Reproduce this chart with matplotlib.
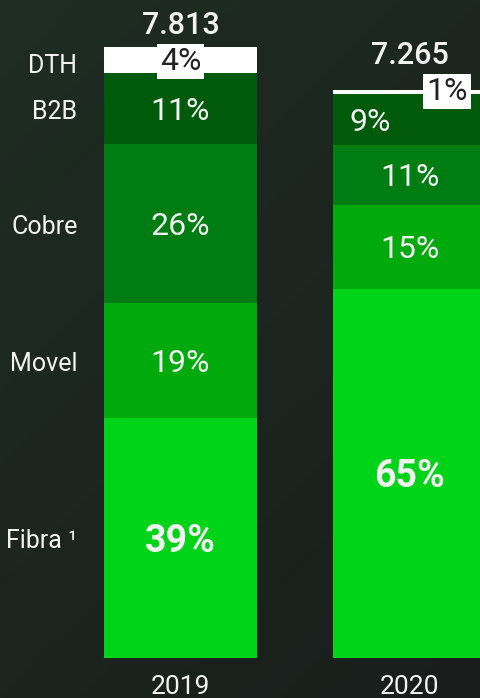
import matplotlib
matplotlib.use("Agg")
import matplotlib.pyplot as plt
import numpy as np

# data (thousands)
years = ["2019", "2020"]
totals = ["7.813", "7.265"]
categories = ["Fibra \u00b9", "Movel", "Cobre", "B2B", "DTH"]
fibra = [3.069, 4.725]
movel = [1.471, 1.070]
cobre = [2.033, 0.770]
b2b = [0.908, 0.650]
dth = [0.332, 0.050]
pct_fibra = ["39%", "65%"]
pct_movel = ["19%", "15%"]
pct_cobre = ["26%", "11%"]
pct_b2b = ["11%", "9%"]
pct_dth = ["4%", "1%"]

colors = ["#00d418", "#00a90c", "#007d12", "#005a0b", "#ffffff"]
txt = "#f2f2f2"


def Setup_plt():
    plt.rcParams.update({
        "font.family": ["Roboto", "DejaVu Sans"],
        "font.size": 18,
    })
    return


def draw_background(fig):
    bg = fig.add_axes([0, 0, 1, 1], zorder=-1)
    yy, xx = np.mgrid[0:1:200j, 0:1:200j]
    t = np.clip(0.6 * yy + 0.4 * xx, 0, 1)
    c0 = np.array([31, 45, 34]) / 255.0
    c1 = np.array([25, 30, 28]) / 255.0
    img = c0[None, None, :] * (1 - t[..., None]) + c1[None, None, :] * t[..., None]
    bg.imshow(img, aspect="auto", extent=[0, 1, 0, 1], origin="upper")
    bg.axis("off")
    return


def plot_bars(ax):
    x = np.arange(len(years))
    series = [fibra, movel, cobre, b2b, dth]
    labels = [pct_fibra, pct_movel, pct_cobre, pct_b2b, pct_dth]
    bottom = np.zeros(len(years))
    mids = []
    for vals, col in zip(series, colors):
        vals = np.array(vals)
        ax.bar(x, vals, bottom=bottom, width=0.668, color=col, linewidth=0)
        mids.append(bottom + vals / 2)
        bottom = bottom + vals

    dy = 0.04  # nudge text down a little

    # percentage labels inside the segments
    for k in range(4):
        for i in range(len(years)):
            xi = x[i]
            if k == 3 and i == 1:
                xi = x[i] - 0.17
            bold = k == 0
            ax.text(xi, mids[k][i] - dy, labels[k][i], ha="center", va="center",
                    color=txt, fontsize=27 if bold else 23,
                    fontweight="bold" if bold else "normal")

    # DTH labels in white boxes
    box = dict(boxstyle="square,pad=0.1", fc="white", ec="none")
    ax.text(x[0], mids[4][0] - 0.02, pct_dth[0], ha="center", va="center",
            color="#222222", fontsize=23, bbox=box)
    ax.text(x[1] + 0.165, bottom[1] - 0.02, pct_dth[1], ha="center", va="center",
            color="#222222", fontsize=23, bbox=box)

    # totals above bars
    pad = [0.09, 0.26]
    for i in range(len(years)):
        ax.text(x[i], bottom[i] + pad[i], totals[i], ha="center", va="bottom",
                color=txt, fontsize=22, fontweight="medium")

    # category names on the left, aligned with the 2019 bar
    for k, name in enumerate(categories):
        yk = mids[k][0] - dy
        if k == 4:
            yk = mids[k][0] - 0.08
        ax.text(-0.45, yk, name, ha="right", va="center", color=txt, fontsize=18)

    # year labels
    for i in range(len(years)):
        ax.text(x[i], -0.37, years[i], ha="center", va="center", color=txt, fontsize=19)

    ax.set_xlim(-0.788, 1.312)
    ax.set_ylim(-0.511, 8.414)
    ax.axis("off")
    return


if __name__ == '__main__':
    Setup_plt()
    fig = plt.figure(figsize=(4.81, 6.98), dpi=100)
    draw_background(fig)
    ax = fig.add_axes([0, 0, 1, 1])
    ax.patch.set_alpha(0)
    plot_bars(ax)
    fig.savefig("out.png", dpi=100)
